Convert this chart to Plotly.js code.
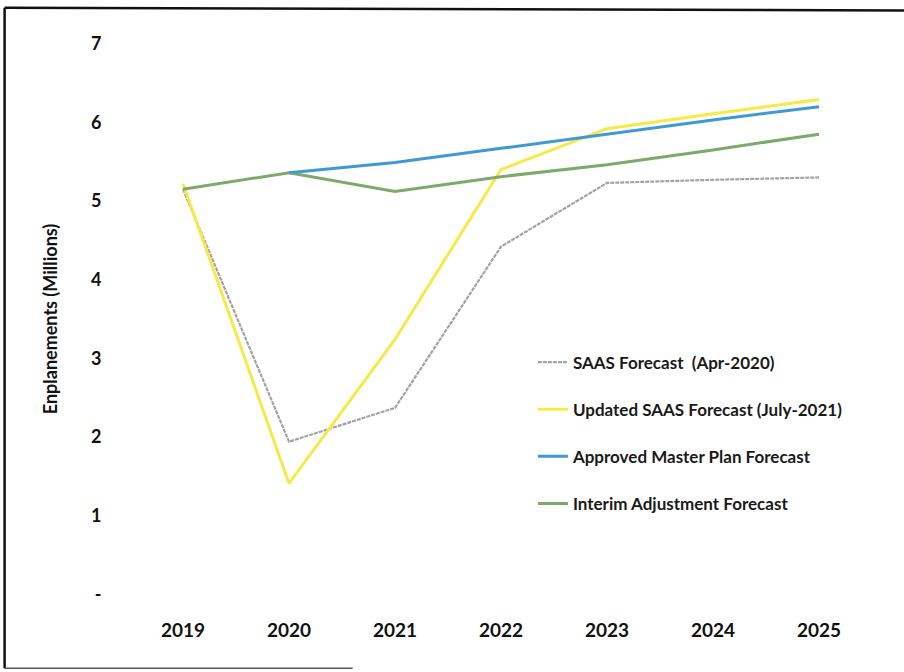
<!DOCTYPE html>
<html>
<head>
<meta charset="utf-8">
<script src="https://cdn.plot.ly/plotly-3.0.1.min.js"></script>
<style>html,body{margin:0;padding:0;background:#fff;}#chart{width:904px;height:672px;}</style>
</head>
<body>
<div id="chart"></div>
<script>
const years = ["2019", "2020", "2021", "2022", "2023", "2024", "2025"];
const saasApr2020 = [5.15, 1.94, 2.37, 4.42, 5.23, 5.27, 5.30];
const saasJuly2021 = [5.22, 1.41, 3.24, 5.40, 5.92, 6.11, 6.29];
const masterPlan = [null, 5.36, 5.49, 5.67, 5.85, 6.03, 6.20];
const interimAdj = [5.15, 5.36, 5.12, 5.31, 5.46, 5.65, 5.85];
const yTickVals = [0, 1, 2, 3, 4, 5, 6, 7];
const yTickText = ["-", "1", "2", "3", "4", "5", "6", "7"];

const fontFam = "Lato, 'Open Sans', sans-serif";

const traces = [
  {x: years, y: saasApr2020, name: "SAAS Forecast  (Apr-2020)", mode: "lines",
   line: {color: "#a3a3a3", width: 2.2, dash: "4px,1px"}, legendgroup: "a", legendrank: 1},
  {x: years, y: saasJuly2021, name: "Updated SAAS Forecast (July-2021)", mode: "lines",
   line: {color: "#f7e948", width: 3}, legendgroup: "b", legendrank: 2},
  {x: years, y: interimAdj, name: "Interim Adjustment Forecast", mode: "lines",
   line: {color: "#7daa6c", width: 3}, legendgroup: "d", legendrank: 4},
  {x: years, y: masterPlan, name: "Approved Master Plan Forecast", mode: "lines",
   line: {color: "#3f9ad4", width: 3}, legendgroup: "c", legendrank: 3}
];

const layout = {
  width: 904, height: 672,
  paper_bgcolor: "#fff", plot_bgcolor: "#fff",
  margin: {l: 130, r: 32, t: 28, b: 62},
  font: {family: fontFam, color: "#111"},
  showlegend: true,
  legend: {
    x: 0.543, y: 0.456, xanchor: "left", yanchor: "top",
    font: {family: fontFam, size: 17, color: "#1a1a1a", weight: "bold"},
    tracegroupgap: 22, itemwidth: 30, bgcolor: "rgba(0,0,0,0)"
  },
  xaxis: {
    type: "category", range: [-0.5, 6.5],
    showgrid: false, zeroline: false, showline: false,
    ticks: "outside", ticklen: 3, tickcolor: "rgba(0,0,0,0)",
    tickfont: {family: fontFam, size: 19, color: "#111", weight: "bold"}
  },
  yaxis: {
    range: [-0.2, 7.2],
    tickvals: yTickVals, ticktext: yTickText,
    showgrid: false, zeroline: false, showline: false,
    ticks: "outside", ticklen: 24, tickcolor: "rgba(0,0,0,0)",
    tickfont: {family: fontFam, size: 18, color: "#111", weight: "bold"},
    title: {text: "Enplanements (Millions)", standoff: 28,
            font: {family: fontFam, size: 18, color: "#111", weight: "bold"}}
  },
  shapes: [
    {type: "line", xref: "paper", yref: "paper", x0: -0.169, x1: -0.169, y0: -0.1, y1: 1.035,
     line: {color: "#111", width: 2.5}},
    {type: "line", xref: "paper", yref: "paper", x0: -0.169, x1: 1.06, y0: 1.035, y1: 1.03,
     line: {color: "#111", width: 2.5}},
    {type: "line", xref: "paper", yref: "paper", x0: -0.169, x1: 0.3, y0: -0.1, y1: -0.1,
     line: {color: "#555", width: 1.5}}
  ]
};

Plotly.newPlot("chart", traces, layout, {displayModeBar: false, staticPlot: true});
</script>
</body>
</html>
